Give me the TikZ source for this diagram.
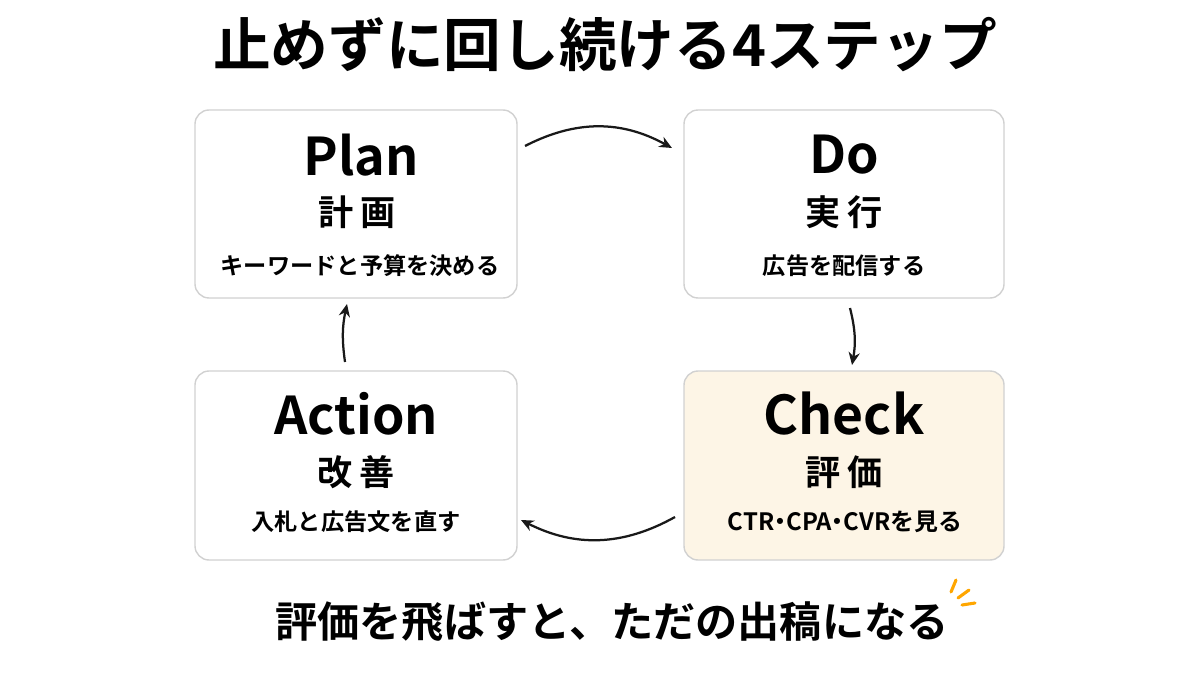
\documentclass[tikz,border=0pt]{standalone}
\usepackage{fontspec}
\setmainfont{Noto Sans CJK JP Bold}
\usetikzlibrary{arrows.meta}
\tikzset{
  card/.style={draw=black!18, line width=1pt, rounded corners=10pt, fill=white},
  flow/.style={-{Stealth[length=9pt,width=8pt]}, line width=1.6pt, black!90},
  accent/.style={draw=orange!70!yellow, line width=2.2pt, line cap=round}
}
\definecolor{cream}{HTML}{FDF5E6}
\begin{document}
\begin{tikzpicture}[x=0.025cm,y=-0.025cm]
\useasboundingbox (0,0) rectangle (1200,675);

\node (title) at (605,45) {\fontsize{41pt}{44pt}\selectfont 止めずに回し続ける4ステップ};

% cards
\draw[card] (195,110) rectangle (517,298);
\draw[card] (684,110) rectangle (1004,298);
\draw[card] (195,371) rectangle (517,560);
\draw[card, fill=cream] (684,371) rectangle (1004,560);

\node (plan) at (361,155) {\fontsize{37pt}{40pt}\selectfont Plan};
\node (planj) at (357,212) {\fontsize{25pt}{28pt}\selectfont 計\hspace{0.2em}画};
\node (plans) at (360,266) {\fontsize{16.5pt}{18pt}\selectfont キーワードと予算を決める};

\node (do) at (844,155) {\fontsize{37pt}{40pt}\selectfont Do};
\node (doj) at (844,212) {\fontsize{25pt}{28pt}\selectfont 実\hspace{0.2em}行};
\node (dos) at (844,266) {\fontsize{16.5pt}{18pt}\selectfont 広告を配信する};

\node (act) at (356,414) {\fontsize{37pt}{40pt}\selectfont Action};
\node (actj) at (356,472) {\fontsize{25pt}{28pt}\selectfont 改\hspace{0.2em}善};
\node (acts) at (356,522) {\fontsize{16.5pt}{18pt}\selectfont 入札と広告文を直す};

\node (chk) at (844,414) {\fontsize{38pt}{41pt}\selectfont Check};
\node (chkj) at (844,472) {\fontsize{25pt}{28pt}\selectfont 評\hspace{0.2em}価};
\node (chks) at (845,522) {\fontsize{17pt}{19pt}\selectfont CTR\hspace{-0.25em}・\hspace{-0.25em}CPA\hspace{-0.25em}・\hspace{-0.25em}CVRを見る};

% loop arrows
\coordinate (a1) at (525,146);
\coordinate (a2) at (672,148);
\coordinate (b1) at (850,308);
\coordinate (b2) at (852,365);
\coordinate (c1) at (675,517);
\coordinate (c2) at (521,520);
\coordinate (d1) at (345,362);
\coordinate (d2) at (347,304);
\draw[flow] (a1) to[bend left=28] (a2);
\draw[flow] (b1) to[bend left=12] (b2);
\draw[flow] (c1) to[bend left=28] (c2);
\draw[flow] (d1) to[bend left=10] (d2);

\node (note) at (612,622) {\fontsize{30pt}{33pt}\selectfont 評価を飛ばすと、ただの出稿になる};
\draw[accent] (951,592) -- (956,580);
\draw[accent] (958,598) -- (969,590);
\draw[accent] (962,605) -- (975,603);
\end{tikzpicture}
\end{document}
